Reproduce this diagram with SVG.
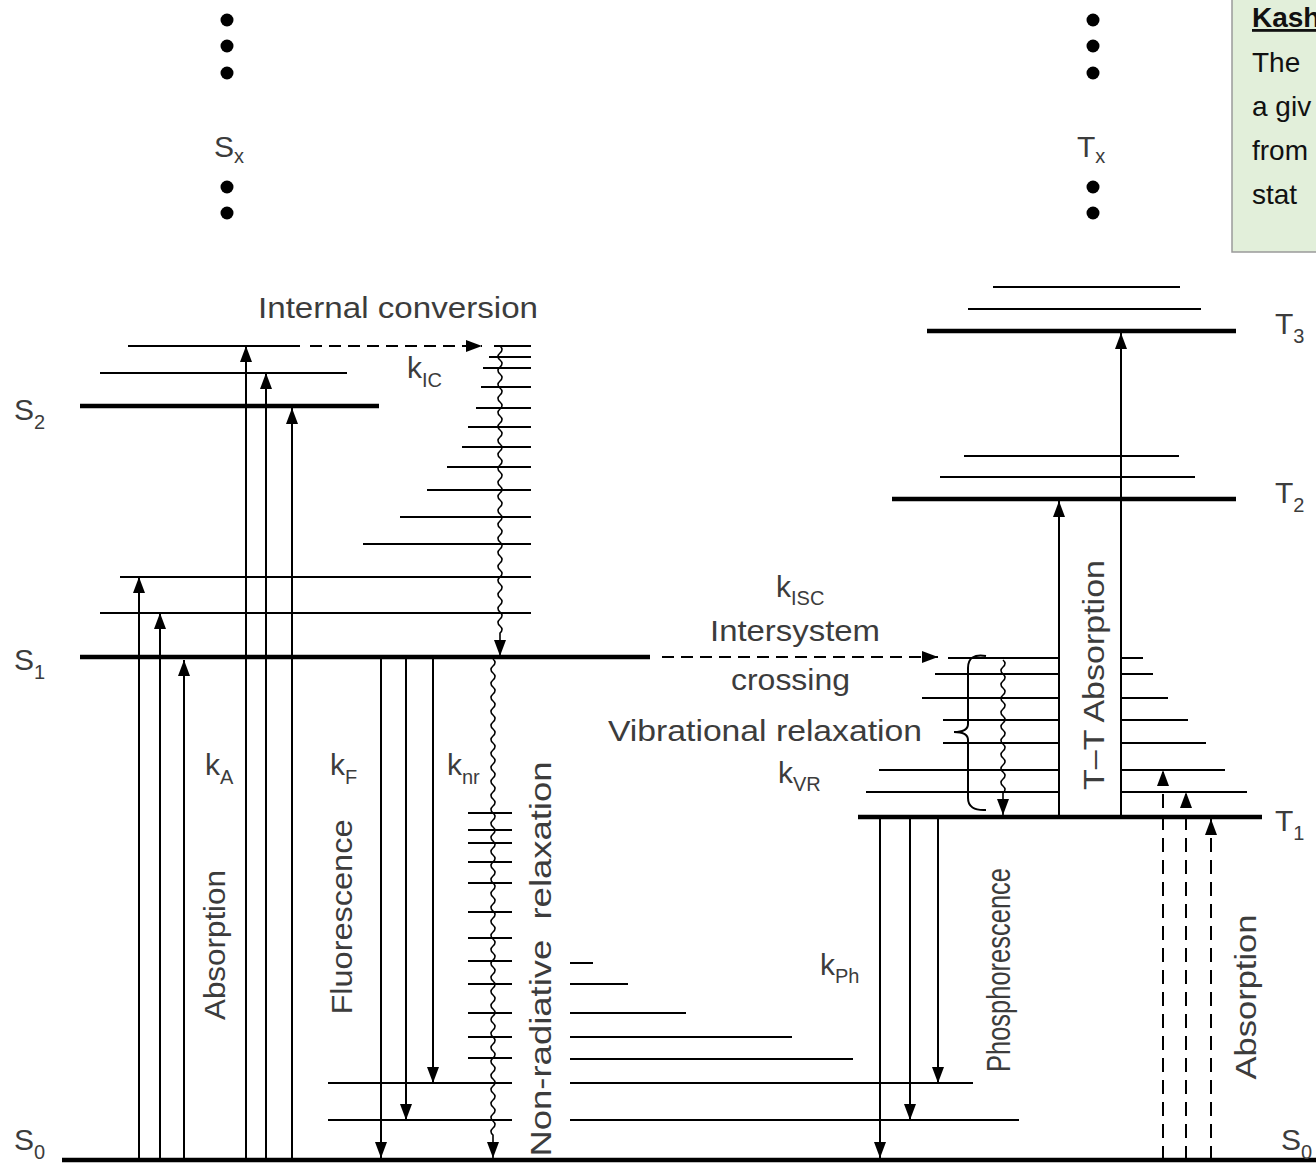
<svg xmlns="http://www.w3.org/2000/svg" width="1316" height="1164" viewBox="0 0 1316 1164">
<style>
.lv{stroke:#000;stroke-width:2;fill:none}
.th{stroke:#000;stroke-width:4.5;fill:none}
.ar{stroke:#000;stroke-width:2;fill:none;marker-end:url(#ah)}
.dsh{stroke-dasharray:12,7}
.dv{stroke-dasharray:14,8}
.wv{stroke:#000;stroke-width:1.6;fill:none}
.t{font-family:"Liberation Sans",Arial,sans-serif;font-size:30px;fill:#3c3c3c}
.sub{font-size:20px}
.box{font-family:"Liberation Sans",Arial,sans-serif;font-size:28px;fill:#111}
</style>
<defs>
<marker id="ah" viewBox="0 0 16 12" refX="16" refY="6" markerWidth="16" markerHeight="12" markerUnits="userSpaceOnUse" orient="auto">
<path d="M0,0L16,6L0,12z" fill="#000"/>
</marker>
</defs>
<rect width="1316" height="1164" fill="#fff"/>

<g id="note">
<rect x="1232" y="-2" width="100" height="254" fill="#e2efda" stroke="#9a9a9a" stroke-width="1.5"/>
<text class="box" x="1252" y="27" font-weight="bold" text-decoration="underline">Kash</text>
<text class="box" x="1252" y="72">The</text>
<text class="box" x="1252" y="116">a giv</text>
<text class="box" x="1252" y="160">from</text>
<text class="box" x="1252" y="204">stat</text>
</g>

<g id="Sx">
<circle cx="227" cy="20" r="6.5"/><circle cx="227" cy="46" r="6.5"/><circle cx="227" cy="73" r="6.5"/>
<circle cx="227" cy="187" r="6.5"/><circle cx="227" cy="213" r="6.5"/>
<text class="t" x="214" y="157">S<tspan class="sub" dy="6">x</tspan></text>
</g>
<g id="Tx">
<circle cx="1093" cy="20" r="6.5"/><circle cx="1093" cy="46" r="6.5"/><circle cx="1093" cy="73" r="6.5"/>
<circle cx="1093" cy="187" r="6.5"/><circle cx="1093" cy="213" r="6.5"/>
<text class="t" x="1077" y="157">T<tspan class="sub" dy="6">x</tspan></text>
</g>

<g id="S2">
<path class="lv" d="M128,346H300M100,373H347"/>
<path class="th" d="M80,406H379"/>
<text class="t" x="14" y="420">S<tspan class="sub" dy="9">2</tspan></text>
</g>

<g id="IC-ladder">
<path class="lv" d="M494,346H531M489,357H531M483,368H531M481,387H531M476,408H531M468,427H531M462,447H531M447,467H531M427,490H531M400,517H531M363,544H531"/>
</g>

<g id="S1">
<path class="lv" d="M120,577H531M100,613H531"/>
<path class="th" d="M80,657H650"/>
<text class="t" x="14" y="670">S<tspan class="sub" dy="9">1</tspan></text>
</g>

<g id="S0">
<path class="lv" d="M468,813H512M468,830H512M468,843H512M468,862H512M468,883H512M468,912H512M468,938H512M468,961H512M468,984H512M468,1013H512M468,1037H512M468,1058H512"/>
<path class="lv" d="M328,1083H512M328,1120H512"/>
<path class="lv" d="M570,963H593M570,984H628M570,1013H686M570,1037H792M570,1059H853M570,1083H973M570,1120H1019"/>
<path class="th" d="M62,1160H1316"/>
<text class="t" x="14" y="1150">S<tspan class="sub" dy="9">0</tspan></text>
<text class="t" x="1281" y="1150">S<tspan class="sub" dy="9">0</tspan></text>
</g>

<g id="T3">
<path class="lv" d="M993,287H1180M968,309H1201"/>
<path class="th" d="M927,331H1236"/>
<text class="t" x="1275" y="334">T<tspan class="sub" dy="9">3</tspan></text>
</g>
<g id="T2">
<path class="lv" d="M964,456H1179M940,477H1195"/>
<path class="th" d="M892,499H1236"/>
<text class="t" x="1275" y="503">T<tspan class="sub" dy="9">2</tspan></text>
</g>
<g id="T1">
<path class="lv" d="M948,658H1059M935,674H1059M922,698H1059M943,720H1059M943,743H1059M879,770H1059M866,792H1059"/>
<path class="lv" d="M1121,658H1143M1121,674H1153M1121,698H1168M1121,720H1188M1121,743H1206M1121,770H1225M1121,792H1247"/>
<path class="th" d="M858,817H1262"/>
<path class="lv" d="M986,656Q968,653 968,668L968,724Q968,732 954,732Q968,732 968,740L968,798Q968,811 986,810"/>
<text class="t" x="1275" y="831">T<tspan class="sub" dy="9">1</tspan></text>
</g>

<g id="connectors">
<path class="ar dsh" d="M310,346H482"/>
<path class="ar dsh" d="M662,657H938"/>
<path class="ar" d="M139,1160V577"/>
<path class="ar" d="M160,1160V613"/>
<path class="ar" d="M184,1160V660"/>
<path class="ar" d="M246,1160V346"/>
<path class="ar" d="M266,1160V373"/>
<path class="ar" d="M292,1160V408"/>
<path class="ar" d="M381,659V1158"/>
<path class="ar" d="M406,659V1120"/>
<path class="ar" d="M433,659V1083"/>
<path class="ar" d="M880,819V1158"/>
<path class="ar" d="M910,819V1120"/>
<path class="ar" d="M938,819V1083"/>
<path class="ar dv" d="M1163,1160V770"/>
<path class="ar dv" d="M1186,1160V792"/>
<path class="ar dv" d="M1211,1160V819"/>
<path class="ar" d="M1059,817V501"/>
<path class="ar" d="M1121,817V333"/>
<path class="wv" marker-end="url(#ah)" d="M500,346q4,3.5 0,7t0,7 t0,7 t0,7 t0,7 t0,7 t0,7 t0,7 t0,7 t0,7 t0,7 t0,7 t0,7 t0,7 t0,7 t0,7 t0,7 t0,7 t0,7 t0,7 t0,7 t0,7 t0,7 t0,7 t0,7 t0,7 t0,7 t0,7 t0,7 t0,7 t0,7 t0,7 t0,7 t0,7 t0,7 t0,7 t0,7 t0,7 t0,7 t0,7 t0,7L500,656"/>
<path class="wv" marker-end="url(#ah)" d="M493,659q4,3.5 0,7t0,7 t0,7 t0,7 t0,7 t0,7 t0,7 t0,7 t0,7 t0,7 t0,7 t0,7 t0,7 t0,7 t0,7 t0,7 t0,7 t0,7 t0,7 t0,7 t0,7 t0,7 t0,7 t0,7 t0,7 t0,7 t0,7 t0,7 t0,7 t0,7 t0,7 t0,7 t0,7 t0,7 t0,7 t0,7 t0,7 t0,7 t0,7 t0,7 t0,7 t0,7 t0,7 t0,7 t0,7 t0,7 t0,7 t0,7 t0,7 t0,7 t0,7 t0,7 t0,7 t0,7 t0,7 t0,7 t0,7 t0,7 t0,7 t0,7 t0,7 t0,7 t0,7 t0,7 t0,7 t0,7 t0,7 t0,7L493,1158"/>
<path class="wv" marker-end="url(#ah)" d="M1003,660q4,3.5 0,7t0,7 t0,7 t0,7 t0,7 t0,7 t0,7 t0,7 t0,7 t0,7 t0,7 t0,7 t0,7 t0,7 t0,7 t0,7 t0,7 t0,7 t0,7L1003,815"/>
</g>

<g id="labels">
<text class="t" x="258" y="318" textLength="280" lengthAdjust="spacingAndGlyphs">Internal conversion</text>
<text class="t" x="407" y="378">k<tspan class="sub" dy="9">IC</tspan></text>
<text class="t" x="776" y="597">k<tspan class="sub" dy="8">ISC</tspan></text>
<text class="t" x="710" y="641" textLength="170" lengthAdjust="spacingAndGlyphs">Intersystem</text>
<text class="t" x="731" y="690" textLength="119" lengthAdjust="spacingAndGlyphs">crossing</text>
<text class="t" x="608" y="741" textLength="314" lengthAdjust="spacingAndGlyphs">Vibrational relaxation</text>
<text class="t" x="778" y="783">k<tspan class="sub" dy="8">VR</tspan></text>
<text class="t" x="205" y="775">k<tspan class="sub" dy="9">A</tspan></text>
<text class="t" x="330" y="775">k<tspan class="sub" dy="9">F</tspan></text>
<text class="t" x="447" y="775">k<tspan class="sub" dy="9">nr</tspan></text>
<text class="t" x="820" y="975">k<tspan class="sub" dy="8">Ph</tspan></text>
<text class="t" transform="translate(225,945) rotate(-90)" text-anchor="middle" textLength="150" lengthAdjust="spacingAndGlyphs">Absorption</text>
<text class="t" transform="translate(352,917) rotate(-90)" text-anchor="middle" textLength="195" lengthAdjust="spacingAndGlyphs">Fluorescence</text>
<text class="t" transform="translate(551,959) rotate(-90)" text-anchor="middle" textLength="395" lengthAdjust="spacingAndGlyphs">Non-radiative&#160; relaxation</text>
<text class="t" transform="translate(1104,675) rotate(-90)" text-anchor="middle" textLength="230" lengthAdjust="spacingAndGlyphs">T–T Absorption</text>
<text class="t" transform="translate(1010,970) rotate(-90)" text-anchor="middle" style="font-size:33px" textLength="204" lengthAdjust="spacingAndGlyphs">Phosphorescence</text>
<text class="t" transform="translate(1256,997) rotate(-90)" text-anchor="middle" textLength="165" lengthAdjust="spacingAndGlyphs">Absorption</text>
</g>
</svg>
